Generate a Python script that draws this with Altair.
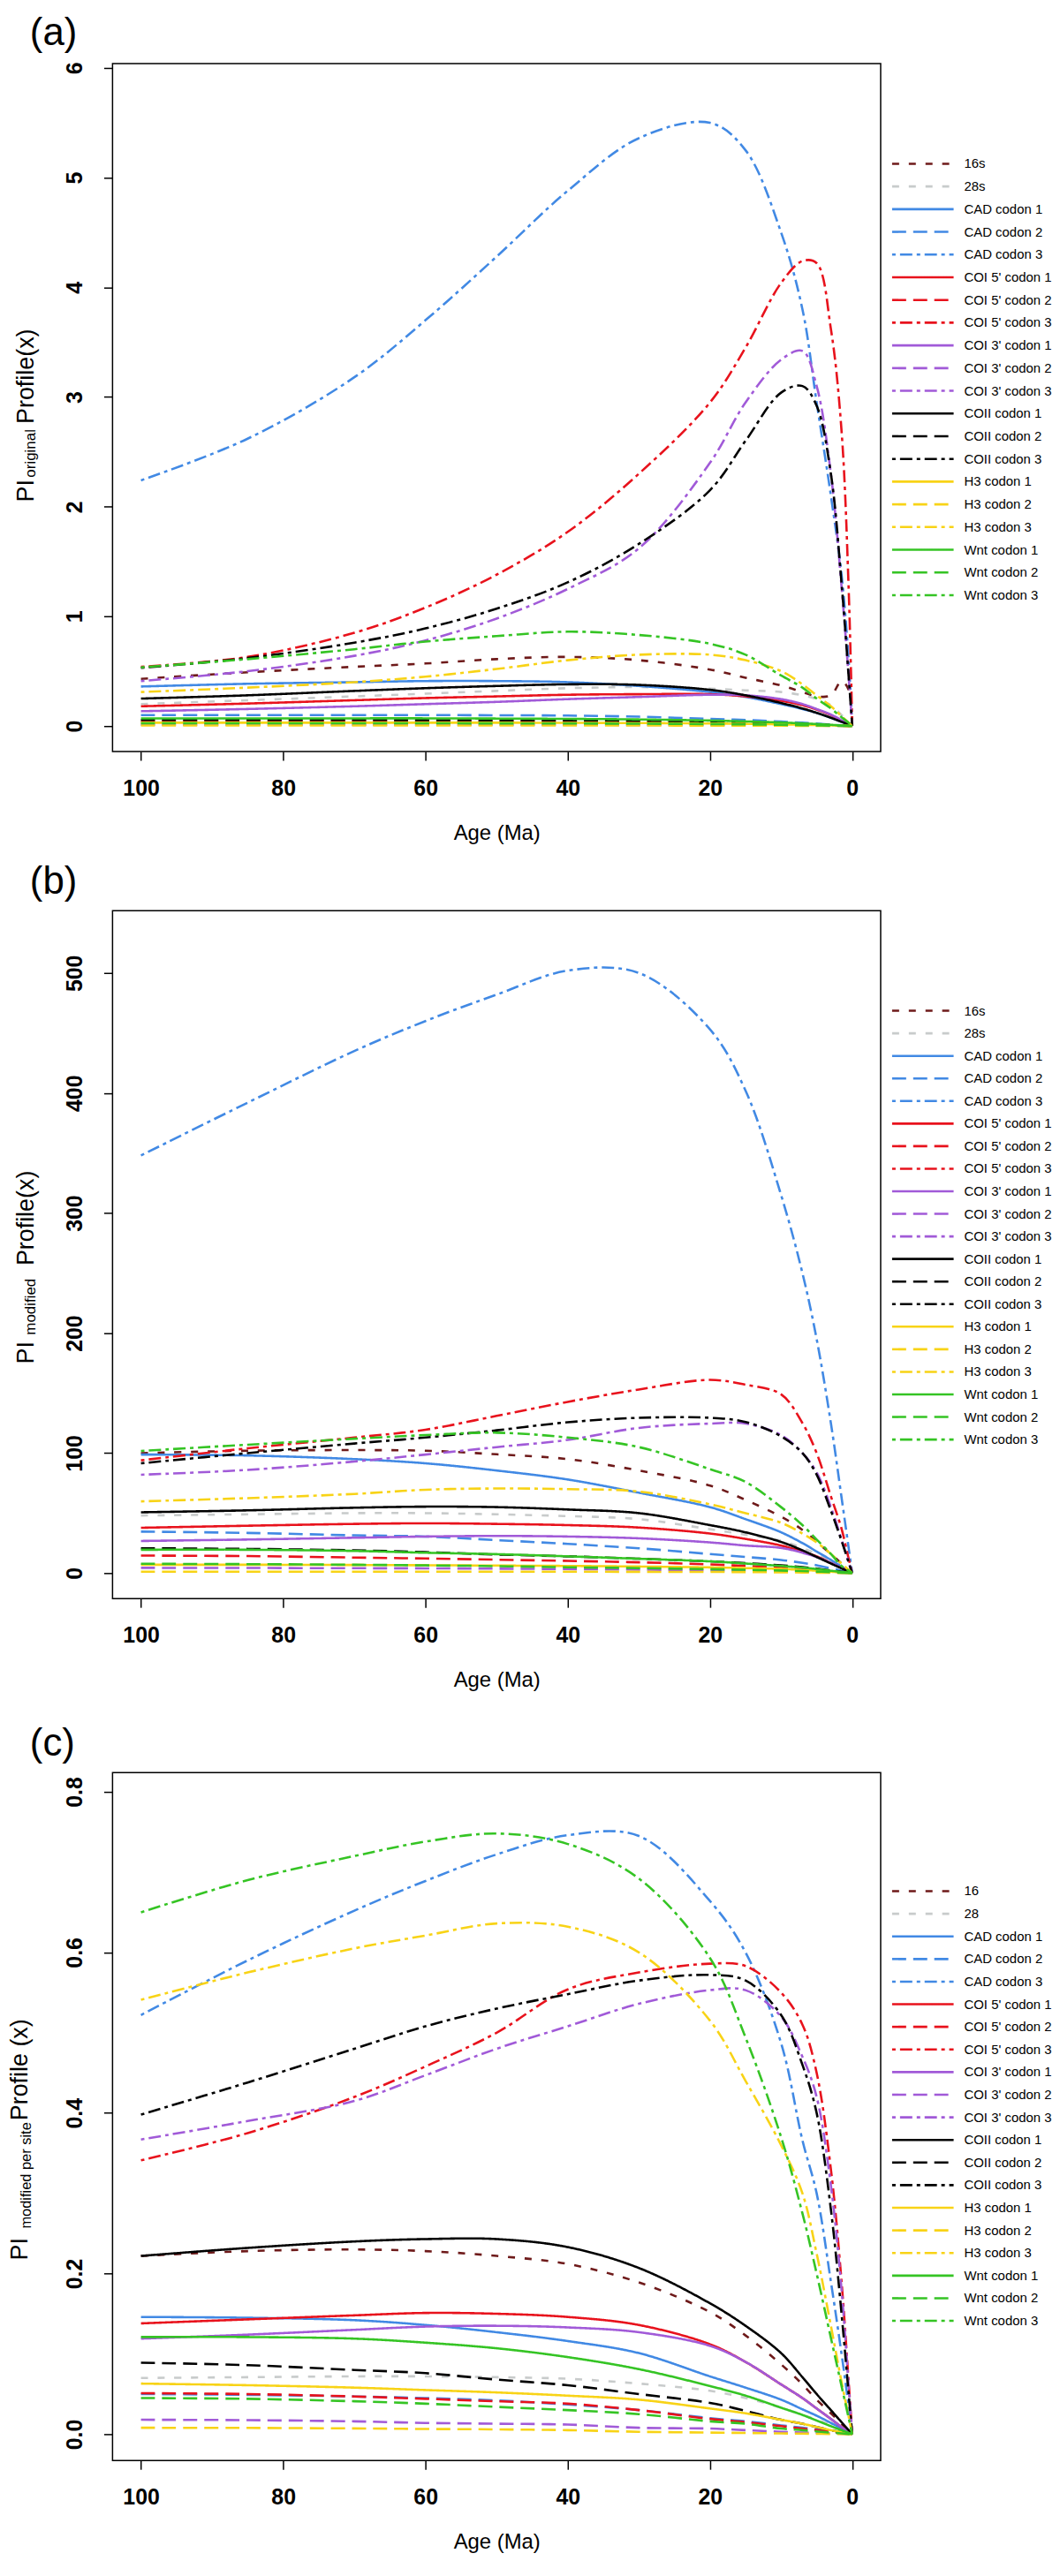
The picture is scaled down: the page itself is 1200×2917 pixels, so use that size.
import altair as alt
import pandas as pd

FONT = "Liberation Sans"

# ---------------- shared x positions (Age, Ma) ----------------
AGES = [100, 85, 70, 60, 50, 40, 30, 20, 15, 10, 7, 5, 3, 1.5, 0.5, 0]

LABELS_AB = ["16s", "28s", "CAD codon 1", "CAD codon 2", "CAD codon 3",
             "COI 5' codon 1", "COI 5' codon 2", "COI 5' codon 3",
             "COI 3' codon 1", "COI 3' codon 2", "COI 3' codon 3",
             "COII codon 1", "COII codon 2", "COII codon 3",
             "H3 codon 1", "H3 codon 2", "H3 codon 3",
             "Wnt codon 1", "Wnt codon 2", "Wnt codon 3"]
LABELS_C = ["16", "28"] + LABELS_AB[2:]

C_BROWN = "#6e1a1a"
C_GRAY = "#c8cbcb"
C_BLUE = "#4189e4"
C_RED = "#e8121c"
C_PURPLE = "#a15ad8"
C_BLACK = "#000000"
C_GOLD = "#f8d316"
C_GREEN = "#35c424"
COLORS = [C_BROWN, C_GRAY,
          C_BLUE, C_BLUE, C_BLUE,
          C_RED, C_RED, C_RED,
          C_PURPLE, C_PURPLE, C_PURPLE,
          C_BLACK, C_BLACK, C_BLACK,
          C_GOLD, C_GOLD, C_GOLD,
          C_GREEN, C_GREEN, C_GREEN]

D_SHORT = [8, 11]
D_SOLID = [1, 0]
D_DASH = [16, 8]
D_DOTDASH = [4, 5, 14, 5]
DASHES = [D_SHORT, D_SHORT] + [D_SOLID, D_DASH, D_DOTDASH] * 6

# ---------------- panel (a): PI original ----------------
A_16S = [0.43, 0.49, 0.54, 0.57, 0.61, 0.63, 0.60, 0.515, 0.44, 0.37, 0.31, 0.27, 0.28, 0.41, 0.33, 0]
A_28S = [0.20, 0.235, 0.27, 0.295, 0.32, 0.345, 0.355, 0.34, 0.325, 0.31, 0.28, 0.245, 0.19, 0.10, 0.035, 0]
A_CAD1 = [0.36, 0.385, 0.40, 0.41, 0.41, 0.40, 0.365, 0.31, 0.265, 0.20, 0.155, 0.12, 0.075, 0.038, 0.013, 0]
A_CAD2 = [0.10, 0.10, 0.10, 0.10, 0.098, 0.095, 0.085, 0.065, 0.055, 0.04, 0.03, 0.022, 0.013, 0.007, 0.002, 0]
A_CAD3 = [2.24, 2.62, 3.18, 3.7, 4.28, 4.88, 5.36, 5.5, 5.25, 4.5, 3.8, 2.95, 2.1, 1.38, 0.6, 0]
A_COI5_1 = [0.18, 0.205, 0.235, 0.255, 0.27, 0.285, 0.29, 0.29, 0.27, 0.23, 0.19, 0.15, 0.10, 0.05, 0.017, 0]
A_COI5_2 = [0.045, 0.045, 0.045, 0.044, 0.043, 0.042, 0.038, 0.032, 0.027, 0.02, 0.015, 0.011, 0.007, 0.003, 0.001, 0]
A_COI5_3 = [0.54, 0.63, 0.85, 1.08, 1.38, 1.77, 2.3, 2.95, 3.45, 4.04, 4.24, 4.22, 3.62, 2.69, 1.25, 0]
A_COI3_1 = [0.135, 0.155, 0.18, 0.20, 0.22, 0.245, 0.265, 0.285, 0.28, 0.245, 0.20, 0.155, 0.105, 0.053, 0.018, 0]
A_COI3_2 = [0.012, 0.012, 0.012, 0.012, 0.012, 0.011, 0.010, 0.009, 0.008, 0.006, 0.0045, 0.0035, 0.002, 0.001, 0.0004, 0]
A_COI3_3 = [0.41, 0.50, 0.64, 0.78, 0.98, 1.25, 1.62, 2.4, 2.95, 3.34, 3.42, 3.1, 2.3, 1.27, 0.45, 0]
A_COII_1 = [0.25, 0.28, 0.32, 0.345, 0.365, 0.38, 0.375, 0.33, 0.28, 0.21, 0.16, 0.12, 0.075, 0.038, 0.013, 0]
A_COII_2 = [0.055, 0.055, 0.055, 0.054, 0.052, 0.05, 0.046, 0.04, 0.034, 0.025, 0.019, 0.014, 0.008, 0.004, 0.0015, 0]
A_COII_3 = [0.53, 0.62, 0.76, 0.89, 1.07, 1.31, 1.66, 2.15, 2.6, 3.04, 3.1, 2.92, 2.3, 1.3, 0.45, 0]
A_H3_1 = [0.03, 0.03, 0.03, 0.03, 0.03, 0.029, 0.027, 0.023, 0.02, 0.015, 0.011, 0.008, 0.005, 0.003, 0.001, 0]
A_H3_2 = [0.005, 0.005, 0.005, 0.005, 0.005, 0.005, 0.0045, 0.004, 0.0035, 0.0025, 0.002, 0.0015, 0.001, 0.0005, 0.0002, 0]
A_H3_3 = [0.31, 0.35, 0.40, 0.45, 0.52, 0.60, 0.65, 0.65, 0.60, 0.50, 0.38, 0.28, 0.18, 0.09, 0.03, 0]
A_WNT_1 = [0.07, 0.07, 0.07, 0.07, 0.068, 0.065, 0.06, 0.05, 0.042, 0.032, 0.024, 0.018, 0.011, 0.005, 0.002, 0]
A_WNT_2 = [0.025, 0.025, 0.025, 0.025, 0.024, 0.023, 0.021, 0.018, 0.015, 0.011, 0.008, 0.006, 0.004, 0.002, 0.001, 0]
A_WNT_3 = [0.535, 0.61, 0.70, 0.77, 0.82, 0.86, 0.83, 0.75, 0.65, 0.46, 0.35, 0.25, 0.16, 0.08, 0.03, 0]

# ---------------- panel (b): PI modified ----------------
B_16S = [100, 102, 102.5, 102, 99, 95, 85.5, 73, 61, 47, 36, 26, 16, 8, 2.7, 0]
B_28S = [48, 49, 50, 50, 49, 47.5, 45, 36.6, 32, 27, 21, 16, 10, 5, 1.7, 0]
B_CAD1 = [98.8, 98, 95, 91.5, 85.5, 78, 67, 55, 45, 34, 25, 18, 11, 5.5, 1.8, 0]
B_CAD2 = [34.6, 33.5, 31.5, 30.5, 27.5, 24.4, 20.7, 15.9, 13.5, 11, 8.5, 6.6, 4, 2, 0.7, 0]
B_CAD3 = [348, 392, 435, 460, 482, 502, 500, 453, 402, 315, 250, 195, 125, 63, 21, 0]
B_COI5_1 = [37.8, 39.5, 41, 41.5, 41, 40, 38, 33, 28.5, 23, 18, 14, 8.5, 4.3, 1.4, 0]
B_COI5_2 = [14.6, 14.2, 13, 12.2, 11.2, 10.2, 9, 7.3, 6, 4.6, 3.4, 2.5, 1.5, 0.75, 0.25, 0]
B_COI5_3 = [94, 104, 113, 119.5, 131, 142.7, 153, 161, 157, 149, 125, 100, 64, 37, 12, 0]
B_COI3_1 = [26.8, 28, 29.5, 30.5, 31, 30.5, 29, 25.6, 23, 21, 17, 13.4, 8.5, 4.3, 1.4, 0]
B_COI3_2 = [4.4, 4.3, 4.1, 4, 3.7, 3.4, 2.9, 2.4, 2.1, 1.7, 1.3, 1, 0.6, 0.3, 0.1, 0]
B_COI3_3 = [82, 86, 93, 98.8, 105, 111, 121, 124.6, 124.6, 115, 100, 84, 55, 28, 9, 0]
B_COII_1 = [50.7, 52.3, 54.5, 55.4, 55, 53, 50, 40, 34, 26, 19, 13.5, 8, 4, 1.3, 0]
B_COII_2 = [20.7, 20.2, 19, 17.5, 15.5, 14, 12, 9.8, 8.3, 6.5, 5, 3.8, 2.3, 1.1, 0.4, 0]
B_COII_3 = [91.5, 100, 108, 113, 119, 125.7, 129.4, 129.4, 126, 114, 100, 82, 52, 27, 9, 0]
B_H3_1 = [7, 7, 6.8, 6.6, 6.3, 6, 5.5, 4.8, 4.2, 3.5, 2.7, 2, 1.2, 0.6, 0.2, 0]
B_H3_2 = [1.2, 1.2, 1.2, 1.2, 1.2, 1.2, 1.1, 1, 0.9, 0.7, 0.55, 0.4, 0.25, 0.12, 0.04, 0]
B_H3_3 = [59.8, 62.5, 66, 69.5, 70.5, 70, 68, 57.4, 50, 42, 33, 25.6, 16, 8, 2.7, 0]
B_WNT_1 = [19.5, 19.5, 18.5, 17, 15.8, 14, 12, 9.8, 8, 6, 4.6, 3.4, 2, 1, 0.35, 0]
B_WNT_2 = [7.8, 7.5, 7, 6.5, 5.8, 4.9, 4.2, 3.3, 2.8, 2.2, 1.7, 1.3, 0.8, 0.4, 0.13, 0]
B_WNT_3 = [101.8, 107, 112, 115, 117, 113, 105, 86.6, 76, 55, 40, 28, 16, 6, 2, 0]

# ---------------- panel (c): PI modified per site ----------------
C_16 = [0.222, 0.228, 0.23, 0.228, 0.222, 0.212, 0.189, 0.152, 0.123, 0.087, 0.062, 0.043, 0.026, 0.013, 0.004, 0]
C_28 = [0.070, 0.071, 0.072, 0.072, 0.071, 0.069, 0.063, 0.054, 0.045, 0.033, 0.024, 0.018, 0.011, 0.005, 0.002, 0]
C_CAD1 = [0.146, 0.145, 0.142, 0.136, 0.127, 0.116, 0.101, 0.072, 0.058, 0.043, 0.031, 0.023, 0.014, 0.007, 0.002, 0]
C_CAD2 = [0.050, 0.049, 0.047, 0.045, 0.042, 0.037, 0.030, 0.020, 0.016, 0.011, 0.008, 0.006, 0.0035, 0.0017, 0.0006, 0]
C_CAD3 = [0.522, 0.59, 0.652, 0.689, 0.722, 0.746, 0.745, 0.664, 0.60, 0.487, 0.366, 0.30, 0.19, 0.10, 0.035, 0]
C_COI5_1 = [0.138, 0.143, 0.148, 0.151, 0.150, 0.146, 0.136, 0.112, 0.090, 0.062, 0.045, 0.032, 0.019, 0.009, 0.003, 0]
C_COI5_2 = [0.051, 0.050, 0.047, 0.044, 0.041, 0.038, 0.030, 0.019, 0.015, 0.010, 0.007, 0.005, 0.003, 0.0015, 0.0005, 0]
C_COI5_3 = [0.341, 0.375, 0.42, 0.458, 0.50, 0.554, 0.575, 0.586, 0.583, 0.55, 0.51, 0.45, 0.33, 0.19, 0.065, 0]
C_COI3_1 = [0.119, 0.124, 0.13, 0.134, 0.135, 0.133, 0.127, 0.11, 0.090, 0.062, 0.045, 0.032, 0.019, 0.009, 0.003, 0]
C_COI3_2 = [0.018, 0.0175, 0.016, 0.014, 0.013, 0.012, 0.008, 0.007, 0.005, 0.003, 0.002, 0.0015, 0.001, 0.0005, 0.0002, 0]
C_COI3_3 = [0.367, 0.39, 0.415, 0.447, 0.48, 0.508, 0.536, 0.553, 0.553, 0.52, 0.47, 0.42, 0.31, 0.18, 0.06, 0]
C_COII_1 = [0.222, 0.232, 0.24, 0.243, 0.243, 0.233, 0.207, 0.163, 0.135, 0.101, 0.071, 0.05, 0.03, 0.015, 0.005, 0]
C_COII_2 = [0.089, 0.086, 0.08, 0.076, 0.068, 0.061, 0.05, 0.039, 0.029, 0.018, 0.013, 0.009, 0.005, 0.0025, 0.0008, 0]
C_COII_3 = [0.398, 0.438, 0.48, 0.508, 0.53, 0.548, 0.565, 0.572, 0.565, 0.522, 0.46, 0.40, 0.28, 0.15, 0.05, 0]
C_H3_1 = [0.063, 0.061, 0.058, 0.055, 0.052, 0.048, 0.043, 0.032, 0.026, 0.018, 0.013, 0.009, 0.005, 0.0025, 0.0008, 0]
C_H3_2 = [0.008, 0.0078, 0.0072, 0.0065, 0.006, 0.005, 0.003, 0.002, 0.0015, 0.001, 0.0007, 0.0005, 0.0003, 0.00015, 0.00005, 0]
C_H3_3 = [0.541, 0.575, 0.605, 0.621, 0.636, 0.632, 0.60, 0.515, 0.44, 0.36, 0.30, 0.225, 0.135, 0.065, 0.022, 0]
C_WNT_1 = [0.121, 0.121, 0.119, 0.114, 0.107, 0.096, 0.081, 0.06, 0.048, 0.033, 0.024, 0.017, 0.01, 0.005, 0.0017, 0]
C_WNT_2 = [0.045, 0.044, 0.041, 0.038, 0.034, 0.03, 0.025, 0.016, 0.013, 0.007, 0.005, 0.0035, 0.002, 0.001, 0.0003, 0]
C_WNT_3 = [0.65, 0.69, 0.72, 0.738, 0.748, 0.735, 0.692, 0.593, 0.494, 0.37, 0.275, 0.20, 0.12, 0.06, 0.02, 0]

PANEL_A = [A_16S, A_28S, A_CAD1, A_CAD2, A_CAD3, A_COI5_1, A_COI5_2, A_COI5_3,
           A_COI3_1, A_COI3_2, A_COI3_3, A_COII_1, A_COII_2, A_COII_3,
           A_H3_1, A_H3_2, A_H3_3, A_WNT_1, A_WNT_2, A_WNT_3]
PANEL_B = [B_16S, B_28S, B_CAD1, B_CAD2, B_CAD3, B_COI5_1, B_COI5_2, B_COI5_3,
           B_COI3_1, B_COI3_2, B_COI3_3, B_COII_1, B_COII_2, B_COII_3,
           B_H3_1, B_H3_2, B_H3_3, B_WNT_1, B_WNT_2, B_WNT_3]
PANEL_C = [C_16, C_28, C_CAD1, C_CAD2, C_CAD3, C_COI5_1, C_COI5_2, C_COI5_3,
           C_COI3_1, C_COI3_2, C_COI3_3, C_COII_1, C_COII_2, C_COII_3,
           C_H3_1, C_H3_2, C_H3_3, C_WNT_1, C_WNT_2, C_WNT_3]

KEYS = [f"s{i:02d}" for i in range(len(COLORS))]

W, H = 874, 783
LW = 2.6


def make_panel(series, labels, ydomain, yticks, yfmt, tag, ytitle, leg_y):
    rows = []
    for key, vals in zip(KEYS, series):
        for a, v in zip(AGES, vals):
            rows.append({"key": key, "age": a, "value": v})
    df = pd.DataFrame(rows)
    leg = pd.DataFrame({"key": KEYS, "label": labels})

    color = alt.Color("key:N", scale=alt.Scale(domain=KEYS, range=COLORS), legend=None)
    dash = alt.StrokeDash("key:N", scale=alt.Scale(domain=KEYS, range=DASHES), legend=None)

    lines = alt.Chart(df).mark_line(strokeWidth=LW, interpolate="catmull-rom").encode(
        x=alt.X("age:Q",
                scale=alt.Scale(domain=[-4, 104], reverse=True, nice=False, zero=False),
                axis=alt.Axis(values=[0, 20, 40, 60, 80, 100], format="d", title="Age (Ma)",
                              labelFontSize=25, labelFontWeight="bold", labelPadding=20,
                              titleFontSize=24, titleFontWeight="normal", titlePadding=26,
                              tickSize=10, tickWidth=1.5, domain=False, grid=False,
                              labelFlush=False, labelOverlap=False)),
        y=alt.Y("value:Q",
                scale=alt.Scale(domain=ydomain, nice=False, zero=False),
                axis=alt.Axis(values=yticks, format=yfmt, title=None,
                              labelAngle=270, labelAlign="center", labelBaseline="bottom",
                              labelFontSize=25, labelFontWeight="bold", labelPadding=20,
                              tickSize=10, tickWidth=1.5, domain=False, grid=False,
                              labelFlush=False, labelOverlap=False)),
        color=color,
        strokeDash=dash,
    )

    ly = alt.Y("key:N", scale=alt.Scale(type="point", domain=KEYS, range=leg_y, padding=0),
               axis=None)
    leg_rule = alt.Chart(leg).mark_rule(strokeWidth=LW).encode(
        x=alt.value(887), x2=alt.value(957), y=ly, color=color, strokeDash=dash)
    leg_text = alt.Chart(leg).mark_text(align="left", baseline="middle", fontSize=15,
                                        font=FONT, color="black").encode(
        x=alt.value(969), y=ly, text="label:N")

    layers = [lines, leg_rule, leg_text]
    for txt, size, px, py in ytitle:
        layers.append(
            alt.Chart(pd.DataFrame({"t": [txt]})).mark_text(
                align="left", baseline="middle", angle=270, fontSize=size,
                font=FONT, color="black").encode(
                x=alt.value(px), y=alt.value(py), text="t:N"))

    return alt.layer(*layers).resolve_scale(y="independent").properties(
        width=W, height=H,
        title=alt.TitleParams(text=tag, anchor="start", frame="group", dx=-94,
                              fontSize=44, font=FONT, fontWeight="normal",
                              color="black", offset=10))


pa = make_panel(PANEL_A, LABELS_AB, [-0.233, 6.04], [0, 1, 2, 3, 4, 5, 6], "d", "(a)",
                [("PI", 27, -98, 499), ("original", 17, -93, 471), ("Profile(x)", 27, -98, 410)],
                [114, 605])
pb = make_panel(PANEL_B, LABELS_AB, [-21.2, 552], [0, 100, 200, 300, 400, 500], "d", "(b)",
                [("PI", 27, -98, 516), ("modified", 17, -93, 483), ("Profile(x)", 27, -98, 404)],
                [114, 602])
pc = make_panel(PANEL_C, LABELS_C, [-0.0328, 0.824], [0, 0.2, 0.4, 0.6, 0.8], ".1f", "(c)",
                [("PI", 27, -105, 555), ("modified per site", 16.5, -98, 519),
                 ("Profile (x)", 27, -105, 396)],
                [135, 624])

chart = alt.vconcat(alt.vconcat(pa, pb, spacing=20), pc, spacing=37).properties(
    padding={"left": 0, "top": 0, "right": 0, "bottom": 0},
    background="white",
).configure_view(stroke="black", strokeWidth=1.5).configure_axis(
    labelFont=FONT, titleFont=FONT, labelColor="black", titleColor="black",
    tickColor="black")

chart.save("out.html", embed_options={"renderer": "svg", "actions": False})
